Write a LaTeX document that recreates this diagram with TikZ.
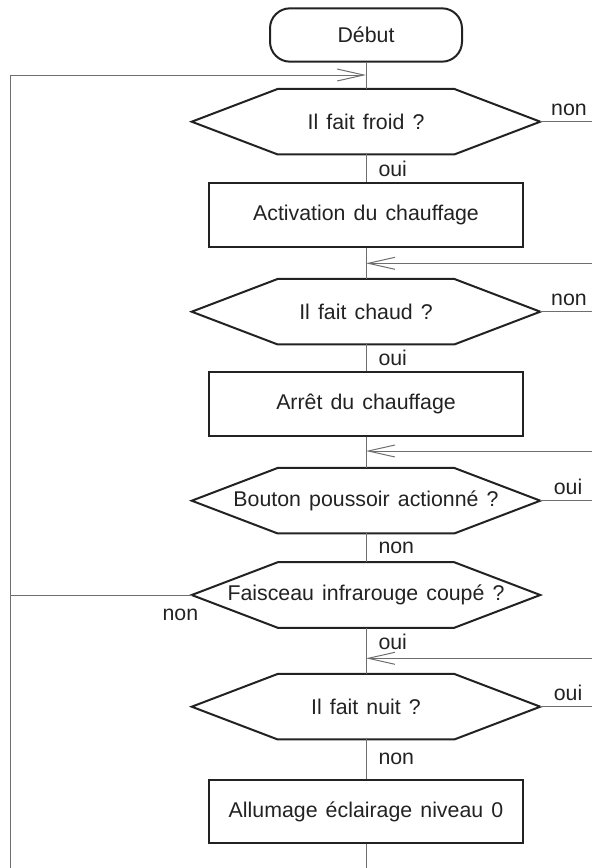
\documentclass[tikz,border=0pt]{standalone}
\usepackage{fontspec}
\setmainfont{Liberation Sans}
\usetikzlibrary{arrows.meta}
\definecolor{ink}{HTML}{222222}
\definecolor{wiregrey}{HTML}{6E6E6E}

\begin{document}
\begin{tikzpicture}[x=0.75pt,y=-0.75pt,font={\fontsize{16}{18}\selectfont\spaceskip=0.38em\relax},text=ink,
  start/.style={draw=ink,line width=1.5pt,rounded corners=15pt,minimum width=144pt,minimum height=40pt},
  box/.style={draw=ink,line width=1.5pt,minimum width=235pt,minimum height=47.5pt},
  test/.style={minimum width=261pt,minimum height=48.75pt,inner sep=0pt},
  hexline/.style={draw=ink,line width=1.5pt,line join=miter},
  lbl/.style={inner sep=1pt},
  wire/.style={draw=wiregrey,line width=0.75pt},
  arr/.style={wire,-{Straight Barb[length=20pt,width=9pt]}}]

\useasboundingbox (0,0) rectangle (592,868);

\node[start] (debut) at (366,35)    {Début};
\node[test]  (q1)    at (366,121.7) {Il fait froid ?};
\node[box]   (a1)    at (366,215)   {Activation du chauffage};
\node[test]  (q2)    at (366,311.7) {Il fait chaud ?};
\node[box]   (a2)    at (366,404)   {Arrêt du chauffage};
\node[test]  (q3)    at (366,500.7) {Bouton poussoir actionné ?};
\node[test]  (q4)    at (366,595)   {Faisceau infrarouge coupé ?};
\node[test]  (q5)    at (366,706.7) {Il fait nuit ?};
\node[box]   (a3)    at (366,811.5) {Allumage éclairage niveau 0};

\foreach \q in {q1,q2,q3,q4,q5}
  \draw[hexline] (\q.west) -- ([xshift=64.5pt]\q.north west) -- ([xshift=-64.5pt]\q.north east)
    -- (\q.east) -- ([xshift=-64.5pt]\q.south east) -- ([xshift=64.5pt]\q.south west) -- cycle;

\coordinate (bl) at (10,868);
\coordinate (re) at (592,0);
\coordinate (j1) at (366,75);
\coordinate (j2) at (366,263.3);
\coordinate (j3) at (366,451);
\coordinate (j4) at (366,658.3);

\draw[wire] (debut) -- (q1);
\draw[wire] (q1) -- node[lbl,right=8pt] (o1) {oui} (a1);
\draw[wire] (a1) -- (q2);
\draw[wire] (q2) -- node[lbl,right=8pt] (o2) {oui} (a2);
\draw[wire] (a2) -- (q3);
\draw[wire] (q3) -- node[lbl,right=8pt] (n3) {non} (q4);
\draw[wire] (q4) -- node[lbl,right=8pt,pos=0.3] (o4) {oui} (q5);
\draw[wire] (q5) -- node[lbl,right=8pt] (n5) {non} (a3);
\draw[wire] (a3) -- (a3 |- bl);

\draw[wire] (q1.east) -- (q1.east -| re);
\draw[wire] (q2.east) -- (q2.east -| re);
\draw[wire] (q3.east) -- (q3.east -| re);
\draw[wire] (q5.east) -- (q5.east -| re);
\node[lbl,anchor=south west] (n1) at ([xshift=7pt,yshift=3pt]q1.east) {non};
\node[lbl,anchor=south west] (n2) at ([xshift=7pt,yshift=3pt]q2.east) {non};
\node[lbl,anchor=south west] (o3) at ([xshift=9pt,yshift=3pt]q3.east) {oui};
\node[lbl,anchor=south west] (o5) at ([xshift=9pt,yshift=3pt]q5.east) {oui};

\draw[wire] (q4.west) -- (q4.west -| bl);
\node[lbl,anchor=north east] (n4) at ([xshift=6pt,yshift=-9pt]q4.west) {non};

\draw[arr] (bl) |- (j1);
\draw[arr] (re |- j2) -- (j2);
\draw[arr] (re |- j3) -- (j3);
\draw[arr] (re |- j4) -- (j4);
\end{tikzpicture}
\end{document}
